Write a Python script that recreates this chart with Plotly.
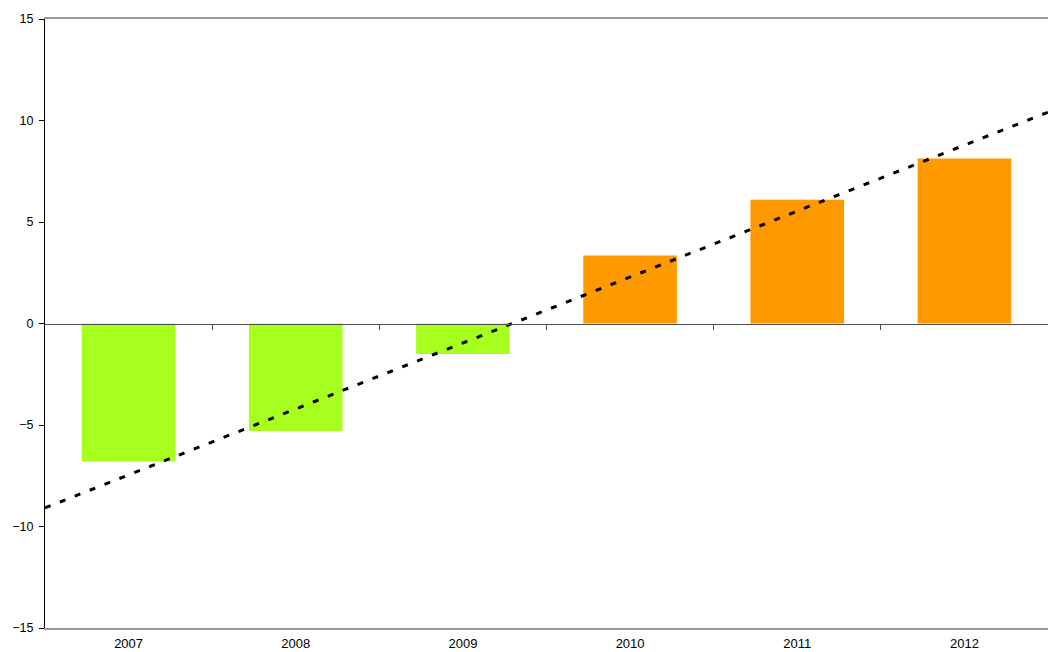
import numpy as np
import plotly.graph_objects as go

years = ["2007", "2008", "2009", "2010", "2011", "2012"]
values = [-6.8, -5.3, -1.5, 3.35, 6.1, 8.13]
colors = ["#A6FF1C", "#A6FF1C", "#A6FF1C", "#FF9900", "#FF9900", "#FF9900"]
y_ticks = [-15, -10, -5, 0, 5, 10, 15]

idx = np.arange(len(years))
# Linear trend line fitted to the bar values (as in the original chart)
slope, intercept = np.polyfit(idx, values, 1)
trend_x = [-0.5, len(years) - 0.5]
trend_y = [intercept + slope * x for x in trend_x]

fig = go.Figure()
fig.add_trace(go.Bar(x=idx, y=values, marker=dict(color=colors, line=dict(width=0)),
                     showlegend=False, hoverinfo="skip"))
fig.add_trace(go.Scatter(x=trend_x, y=trend_y, mode="lines",
                         line=dict(color="black", width=3, dash="6px,10px"),
                         showlegend=False, hoverinfo="skip"))
# invisible trace on xaxis2 to draw the zero axis with ticks
fig.add_trace(go.Scatter(x=idx, y=[0]*len(idx), xaxis="x2", mode="markers",
                         marker=dict(opacity=0), showlegend=False, hoverinfo="skip"))

fig.update_layout(
    width=1048, height=652,
    margin=dict(l=45, r=0, t=19, b=24, autoexpand=False),
    paper_bgcolor="white", plot_bgcolor="white",
    bargap=0.44,
    font=dict(family="Liberation Sans, Arial, sans-serif", size=12, color="black"),
    xaxis=dict(range=[-0.5, len(years) - 0.5], tickmode="array", tickvals=idx, ticktext=years,
               showgrid=False, zeroline=False, showline=True, linecolor="#999999", linewidth=1.5,
               mirror=True, ticks="", ticklabelstandoff=3, tickfont=dict(size=13),
               automargin=False),
    xaxis2=dict(overlaying="x", matches="x", anchor="free", position=0.5, side="bottom",
                showline=True, linecolor="#505050", linewidth=1.2, ticks="outside",
                ticklen=5, tickcolor="#505050", tickwidth=1,
                tickmode="array", tickvals=[i + 0.5 for i in idx[:-1]], showticklabels=False,
                showgrid=False, zeroline=False),
    yaxis=dict(range=[-15, 15], tickvals=y_ticks, showgrid=False, zeroline=False,
               showline=True, linecolor="black", linewidth=1, ticks="outside",
               ticklen=5, tickcolor="black", tickfont=dict(size=12.5), ticklabelstandoff=3,
               automargin=False),
)

fig.write_html("out.html", config={"displayModeBar": False},
               post_script="document.body.style.margin='0';document.body.style.overflow='hidden';")
